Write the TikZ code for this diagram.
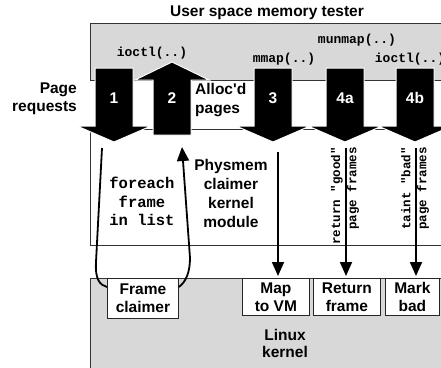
\documentclass[tikz,border=0pt]{standalone}
\usepackage{fontspec}
\setmainfont{Liberation Sans}
\setmonofont{Liberation Mono}
\usetikzlibrary{arrows.meta,calc}
\definecolor{boxgray}{RGB}{216,216,216}
\tikzset{
  lbl/.style={font=\bfseries\fontsize{15.5}{18.5}\selectfont, align=center, inner sep=0pt},
  calltext/.style={font=\ttfamily\bfseries\fontsize{13}{15}\selectfont, inner sep=0pt},
  bigcall/.style={font=\ttfamily\bfseries\fontsize{15.5}{18.5}\selectfont, align=center, inner sep=0pt},
  rotcall/.style={font=\ttfamily\bfseries\fontsize{12.5}{14}\selectfont, inner sep=0pt, rotate=90, anchor=east},
  region/.style={draw=black!80, line width=0.8pt, anchor=north west, inner sep=0pt},
  smallbox/.style={draw=black!85, fill=white, line width=0.8pt, anchor=north west, inner sep=0pt, align=center, font=\bfseries\fontsize{15.5}{18}\selectfont},
  block/.style={fill=black, draw=white, line width=1pt, line join=miter},
  num/.style={text=white, font=\bfseries\fontsize{15.5}{18}\selectfont, inner sep=0pt},
  flow/.style={line width=1.8pt, -{Triangle[length=14pt,width=12pt]}},
  loopline/.style={line width=1.8pt},
  pics/downblk/.style={code={\path[block] (-19,0) -- (19,0) -- (19,58) -- (37,58) -- (0,74) -- (-37,58) -- (-19,58) -- cycle;}},
}
\begin{document}
\begin{tikzpicture}[x=1pt,y=-1pt]
\useasboundingbox (0,0) rectangle (441,367);
\clip (0,0) rectangle (441,367);
% regions
\node[region, fill=boxgray, minimum width=360pt, minimum height=57pt] (user) at (90,23) {};
\node[region, fill=white, minimum width=360pt, minimum height=116pt] (kmod) at (90,129) {};
\node[region, fill=boxgray, minimum width=360pt, minimum height=100pt] (linux) at (90,278) {};
% inner boxes
\node[smallbox, minimum width=71pt, minimum height=40pt] (claim) at (107,278) {Frame\\claimer};
\node[smallbox, minimum width=67pt, minimum height=37pt] (map) at (242,278) {Map\\to VM};
\node[smallbox, minimum width=67pt, minimum height=37pt] (ret) at (313,278) {Return\\frame};
\node[smallbox, minimum width=54pt, minimum height=37pt] (mark) at (385,278) {Mark\\bad};
\node[lbl, font=\bfseries\fontsize{15.5}{17}\selectfont] (lk) at (285,343.5) {Linux\\kernel};
% title
\node[lbl] (title) at (267,13) {User space memory tester};
% block arrows
\pic at (114,68) {downblk};
\pic at (273,68) {downblk};
\pic at (345,68) {downblk};
\pic at (415,68) {downblk};
\path[block] (172,62) -- (209,80) -- (191,80) -- (191,135) -- (153,135) -- (153,80) -- (135,80) -- cycle;
\node[num] (n1) at (114,98) {1};
\node[num] (n2) at (172,98) {2};
\node[num] (n3) at (273,98) {3};
\node[num] (n4a) at (345,98) {4a};
\node[num] (n4b) at (415,98) {4b};
% calls
\node[calltext] (ioctla) at (152,53) {ioctl(..)};
\node[calltext] (mmap) at (284,59) {mmap(..)};
\node[calltext] (munmap) at (357,40) {munmap(..)};
\node[calltext] (ioctlb) at (410,59) {ioctl(..)};
% labels
\node[lbl, align=right, anchor=east] (pagereq) at (77,99) {Page\\requests};
\node[lbl, align=left, anchor=west] (alloc) at (195,100) {Alloc\textquotesingle d\\pages};
\node[lbl, font=\bfseries\fontsize{15.5}{19}\selectfont] (physmem) at (231,193.5) {Physmem\\claimer\\kernel\\module};
\node[bigcall] (foreach) at (142,201.5) {foreach\\frame\\in list};
\node[rotcall] (retgood) at (337,147) {return "good"};
\node[rotcall] (pf1) at (353,147) {page frames};
\node[rotcall] (taint) at (406,147) {taint "bad"};
\node[rotcall] (pf2) at (423,147) {page frames};
% thin arrows
\coordinate (s3) at (278,152);
\coordinate (s4a) at (346,148);
\coordinate (s4b) at (416,148);
\draw[flow, shorten >=2pt] (s3) -- (s3 |- map.north);
\draw[flow, shorten >=2pt] (s4a) -- (s4a |- ret.north);
\draw[flow, shorten >=2pt] (s4b) -- (s4b |- mark.north);
% loop
\coordinate (lt) at (102,148);
\coordinate (rt) at (182,147);
\draw[loopline] (lt) -- (96,262) .. controls (95,280) and (100,285) .. ($(claim.north west)+(0,9)$);
\draw[flow] ($(claim.north east)+(0,9)$) .. controls (186,282) and (190,272) .. (190,258) -- (rt);
\end{tikzpicture}
\end{document}
